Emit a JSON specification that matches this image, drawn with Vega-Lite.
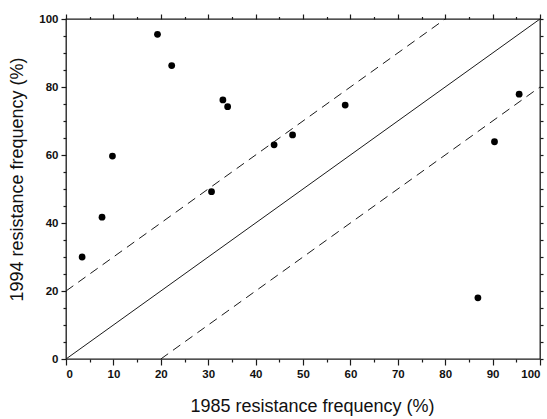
{
  "$schema": "https://vega.github.io/schema/vega-lite/v6.json",
  "autosize": "none",
  "width": 474,
  "height": 340,
  "padding": {"left": 66, "top": 19, "right": 7, "bottom": 60},
  "background": "white",
  "config": {
    "view": {"stroke": "#1a1a1a", "strokeWidth": 1.3},
    "axis": {
      "domain": false, "grid": false, "tickColor": "#1a1a1a", "tickWidth": 1.2,
      "labelFont": "Liberation Sans", "labelFontWeight": "bold", "labelFontSize": 11.5, "labelColor": "#111",
      "titleFont": "Liberation Sans", "titleFontWeight": "normal", "titleFontSize": 18, "titleColor": "#111"
    }
  },
  "datasets": {
    "pts": [
      {"x1985": 3.4, "y1994": 30.0},
      {"x1985": 7.6, "y1994": 41.7},
      {"x1985": 9.8, "y1994": 59.7},
      {"x1985": 19.3, "y1994": 95.5},
      {"x1985": 22.3, "y1994": 86.3},
      {"x1985": 30.7, "y1994": 49.2},
      {"x1985": 33.1, "y1994": 76.2},
      {"x1985": 34.1, "y1994": 74.2},
      {"x1985": 43.9, "y1994": 63.0},
      {"x1985": 47.8, "y1994": 65.9},
      {"x1985": 58.9, "y1994": 74.7},
      {"x1985": 86.9, "y1994": 18.0},
      {"x1985": 90.4, "y1994": 63.9},
      {"x1985": 95.6, "y1994": 77.9}
    ],
    "lines": [
      {"line": "equal", "x1985": 0, "y1994": 0},
      {"line": "equal", "x1985": 100, "y1994": 100},
      {"line": "upper", "x1985": 0, "y1994": 20},
      {"line": "upper", "x1985": 80, "y1994": 100},
      {"line": "lower", "x1985": 20, "y1994": 0},
      {"line": "lower", "x1985": 100, "y1994": 80}
    ]
  },
  "resolve": {"axis": {"x": "independent", "y": "independent"}},
  "layer": [
    {
      "data": {"name": "pts"},
      "mark": {"type": "point", "filled": true, "color": "#000", "size": 46, "opacity": 1},
      "encoding": {
        "x": {"field": "x1985", "type": "quantitative", "scale": {"domain": [0, 100], "nice": false},
          "axis": {"orient": "bottom", "values": [0,10,20,30,40,50,60,70,80,90,100], "tickSize": 6, "labelPadding": 3, "title": "1985 resistance frequency (%)", "titlePadding": 18, "titleX": 246}},
        "y": {"field": "y1994", "type": "quantitative", "scale": {"domain": [0, 100], "nice": false},
          "axis": {"orient": "left", "values": [0,20,40,60,80,100], "tickSize": 5, "labelPadding": 3, "title": "1994 resistance frequency (%)", "titlePadding": 12, "titleY": 160}}
      }
    },
    {
      "data": {"name": "lines"},
      "transform": [{"filter": "datum.line === 'equal'"}],
      "mark": {"type": "line", "color": "#1a1a1a", "strokeWidth": 1},
      "encoding": {
        "x": {"field": "x1985", "type": "quantitative", "scale": {"domain": [0, 100], "nice": false},
          "axis": {"orient": "top", "values": [0,10,20,30,40,50,60,70,80,90,100], "tickSize": 5, "labels": false, "title": null}},
        "y": {"field": "y1994", "type": "quantitative", "scale": {"domain": [0, 100], "nice": false},
          "axis": {"orient": "right", "values": [0,5,10,15,20,25,30,35,40,45,50,55,60,65,70,75,80,85,90,95,100], "tickSize": 3, "labels": false, "title": null}}
      }
    },
    {
      "data": {"name": "lines"},
      "transform": [{"filter": "datum.line === 'upper'"}],
      "mark": {"type": "line", "color": "#1a1a1a", "strokeWidth": 1, "strokeDash": [9, 6]},
      "encoding": {
        "x": {"field": "x1985", "type": "quantitative", "scale": {"domain": [0, 100], "nice": false},
          "axis": {"orient": "bottom", "values": [5,15,25,35,45,55,65,75,85,95], "tickSize": 3, "labels": false, "title": null}},
        "y": {"field": "y1994", "type": "quantitative", "scale": {"domain": [0, 100], "nice": false},
          "axis": {"orient": "left", "values": [5,10,15,25,30,35,45,50,55,65,70,75,85,90,95], "tickSize": 3, "labels": false, "title": null}}
      }
    },
    {
      "data": {"name": "lines"},
      "transform": [{"filter": "datum.line === 'lower'"}],
      "mark": {"type": "line", "color": "#1a1a1a", "strokeWidth": 1, "strokeDash": [9, 6]},
      "encoding": {
        "x": {"field": "x1985", "type": "quantitative", "scale": {"domain": [0, 100], "nice": false},
          "axis": {"orient": "top", "values": [5,15,25,35,45,55,65,75,85,95], "tickSize": 2.5, "labels": false, "title": null}},
        "y": {"field": "y1994", "type": "quantitative", "scale": {"domain": [0, 100], "nice": false}, "axis": null}
      }
    }
  ]
}
